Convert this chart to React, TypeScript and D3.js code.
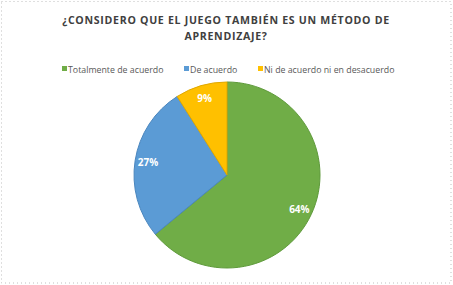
import React from "react";
import * as d3 from "d3";

const categories = ["Totalmente de acuerdo", "De acuerdo", "Ni de acuerdo ni en desacuerdo"];
const values = [64, 27, 9];
const colors = ["#70AD47", "#5B9BD5", "#FFC000"];
const strokes = ["#5E9A3A", "#4A86BE", "#E0A800"];
const titleLines = ["¿CONSIDERO QUE EL JUEGO TAMBIÉN ES UN MÉTODO DE", "APRENDIZAJE?"];

const W = 453;
const H = 285;

export default function App() {
  const cx = 227;
  const cy = 175;
  const r = 93;
  const pie = d3.pie<number>().sort(null).value((d) => d);
  const arcs = pie(values);
  const arc = d3.arc<d3.PieArcDatum<number>>().innerRadius(0).outerRadius(r);
  const labelArc = d3.arc<d3.PieArcDatum<number>>().innerRadius(r * 0.86).outerRadius(r * 0.86);

  const legendX = [62, 184, 258];
  return (
    <div style={{ position: "absolute", left: 0, top: 0 }}>
      <svg width={W} height={H} style={{ display: "block" }}>
        <rect x={0} y={0} width={W} height={H} fill="#fff" />
        <rect x={1.5} y={1.5} width={449.5} height={281.5} fill="none" stroke="#BFBFBF" strokeWidth={1} strokeDasharray="1 3" />
        {titleLines.map((t, i) => (
          <text key={i} x={226} y={24 + i * 15.5} textAnchor="middle" fontFamily="'Open Sans', sans-serif" fontWeight={700} fontSize={10.6} fill="#404040" letterSpacing={0.7}>
            {t}
          </text>
        ))}
        {categories.map((c, i) => (
          <g key={c}>
            <rect x={legendX[i]} y={66} width={5} height={5} fill={colors[i]} />
            <text x={legendX[i] + 6} y={72.5} fontFamily="'Open Sans', sans-serif" fontSize={8.8} fill="#595959">
              {c}
            </text>
          </g>
        ))}
        <g transform={`translate(${cx},${cy})`}>
          {arcs.map((a, i) => (
            <path key={i} d={arc(a) || ""} fill={colors[i]} stroke={strokes[i]} strokeWidth={1} />
          ))}
          {arcs.map((a, i) => {
            const [x, y] = labelArc.centroid(a);
            return (
              <text key={"l" + i} x={x} y={y} dy="0.35em" textAnchor="middle" fontFamily="'Open Sans', sans-serif" fontWeight={700} fontSize={10} fill="#fff">
                {values[i]}%
              </text>
            );
          })}
        </g>
      </svg>
    </div>
  );
}
